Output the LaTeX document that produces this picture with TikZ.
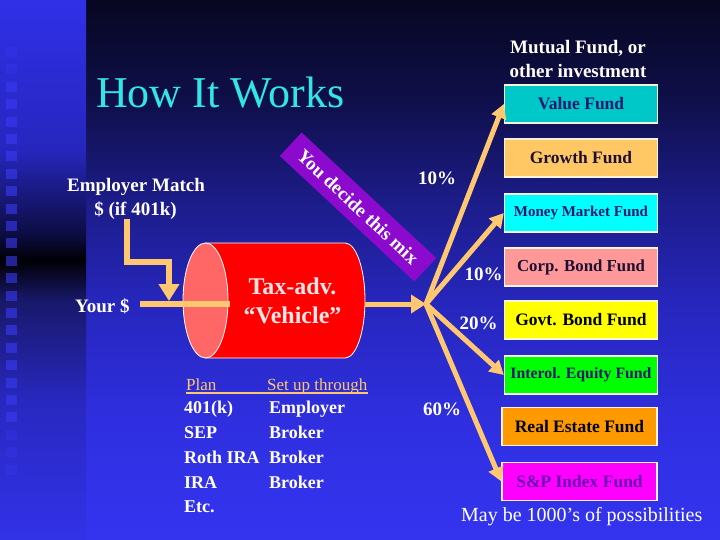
\documentclass[tikz,border=0pt]{standalone}
\usepackage{fontspec}
\setmainfont{Liberation Serif}
\usetikzlibrary{arrows.meta}
\definecolor{arrowc}{RGB}{255,200,112}
\definecolor{titlec}{RGB}{51,230,230}
\definecolor{boxedge}{RGB}{245,245,220}
\definecolor{bannerc}{RGB}{140,10,205}
\definecolor{cylred}{RGB}{255,0,0}
\definecolor{cylpink}{RGB}{255,102,102}
\definecolor{cyltext}{RGB}{255,230,230}
\definecolor{valuec}{RGB}{0,200,200}
\definecolor{growthc}{RGB}{255,200,100}
\definecolor{moneyc}{RGB}{0,255,255}
\definecolor{corpc}{RGB}{255,153,153}
\definecolor{govtc}{RGB}{255,255,0}
\definecolor{interc}{RGB}{0,255,0}
\definecolor{realc}{RGB}{255,153,0}
\definecolor{spc}{RGB}{255,0,255}
\definecolor{navyt}{RGB}{26,26,110}
\definecolor{darkt}{RGB}{30,16,50}
\definecolor{purplet}{RGB}{106,0,176}
\definecolor{mA}{RGB}{7,7,34}
\definecolor{mB}{RGB}{15,15,74}
\definecolor{mC}{RGB}{28,28,136}
\definecolor{mD}{RGB}{38,38,188}
\definecolor{mE}{RGB}{47,47,224}
\definecolor{mF}{RGB}{52,52,240}
\definecolor{lA}{RGB}{48,48,232}
\definecolor{lB}{RGB}{38,38,190}
\definecolor{lC}{RGB}{12,12,64}
\definecolor{lD}{RGB}{0,0,5}
\definecolor{lE}{RGB}{24,24,106}
\definecolor{lF}{RGB}{40,40,192}
\definecolor{lG}{RGB}{50,50,232}
\definecolor{sqc}{RGB}{58,58,245}
\begin{document}
\begin{tikzpicture}[x=1pt,y=-1pt,
  lbl/.style={text=white,inner sep=0,font=\bfseries\fontsize{19}{22}\selectfont},
  tbl/.style={text=white,inner sep=0,anchor=base west,font=\bfseries\fontsize{18}{21}\selectfont},
  hdr/.style={text=arrowc,inner sep=0,anchor=base west,font=\fontsize{17}{20}\selectfont},
  fund/.style={draw=boxedge,line width=1.3pt,minimum width=153pt,minimum height=38pt,inner sep=0,
    font=\bfseries\fontsize{17.5}{20}\selectfont},
  flowsix/.style={draw=arrowc,line width=6pt},
  flowfive/.style={draw=arrowc,line width=5pt},
  bigtip/.style={-{Triangle[length=17pt,width=20pt]}},
  midtip/.style={-{Triangle[length=15pt,width=18pt]}},
  fantip/.style={-{Triangle[length=14pt,width=15pt]}}]
\useasboundingbox (0,0) rectangle (720,540);
% main background
\shade[top color=mA,bottom color=mB] (86,0) rectangle (720,100.5);
\shade[top color=mB,bottom color=mC] (86,100) rectangle (720,200.5);
\shade[top color=mC,bottom color=mD] (86,200) rectangle (720,300.5);
\shade[top color=mD,bottom color=mE] (86,300) rectangle (720,420.5);
\shade[top color=mE,bottom color=mF] (86,420) rectangle (720,540);
% left strip
\shade[top color=lA,bottom color=lB] (0,0) rectangle (86,150.5);
\shade[top color=lB,bottom color=lC] (0,150) rectangle (86,235.5);
\shade[top color=lC,bottom color=lD] (0,235) rectangle (86,260.5);
\shade[top color=lD,bottom color=lE] (0,260) rectangle (86,300.5);
\shade[top color=lE,bottom color=lF] (0,300) rectangle (86,400.5);
\shade[top color=lF,bottom color=lG] (0,400) rectangle (86,540);
\foreach \k in {0,...,24}{
  \pgfmathsetmacro{\op}{(\k<2 || \k>21) ? 0.3 : 0.6}
  \fill[sqc,opacity=\op] (6,47+17.4*\k) rectangle (17,57+17.4*\k);
}
% title
\node[anchor=base west,inner sep=0,text=titlec,font=\fontsize{44}{50}\selectfont] (title) at (96,108) {How It Works};
% header of right column
\node[lbl,anchor=base] (mf1) at (578,54) {Mutual Fund, or};
\node[lbl,anchor=base] (mf2) at (578,77.5) {other investment};
% fund boxes
\node[fund,fill=valuec,text=navyt] (value) at (581,104) {Value Fund};
\node[fund,fill=growthc,text=darkt] (growth) at (581,158) {Growth Fund};
\node[fund,fill=moneyc,text=navyt,font=\bfseries\fontsize{15}{18}\selectfont] (money) at (581,213) {Money Market Fund};
\node[fund,fill=corpc,text=darkt,font=\bfseries\fontsize{16.8}{19}\selectfont] (corp) at (581,267) {Corp. Bond Fund};
\node[fund,fill=govtc,text=black] (govt) at (581,320) {Govt. Bond Fund};
\node[fund,fill=interc,text=navyt,font=\bfseries\fontsize{15.8}{18}\selectfont] (inter) at (581,375) {Interol. Equity Fund};
\node[fund,fill=realc,text=black,minimum width=155pt] (real) at (579.5,426.5) {Real Estate Fund};
\node[fund,fill=spc,text=purplet,minimum width=155pt] (sp) at (579.5,481.5) {S\&P Index Fund};
% left labels
\node[lbl,anchor=base] (emp1) at (136,191.5) {Employer Match};
\node[lbl,anchor=base] (emp2) at (135.5,215) {\$ (if 401k)};
\node[lbl,anchor=base west] (your) at (75,312.5) {Your \$};
% cylinder
\fill[cylred] (205,243) -- (345,243) arc[start angle=-90,end angle=90,x radius=20,y radius=57.5] -- (205,358) -- cycle;
\draw[white,line width=0.8pt] (205,243) -- (345,243) arc[start angle=-90,end angle=90,x radius=20,y radius=57.5] -- (205,358);
\filldraw[fill=cylpink,draw=white,line width=0.8pt] (205.5,300.5) ellipse[x radius=22.5,y radius=57.5];
\node[anchor=base,inner sep=0,text=cyltext,font=\bfseries\fontsize{24}{28}\selectfont] (tax) at (292.5,294) {Tax-adv.};
\node[anchor=base,inner sep=0,text=cyltext,font=\bfseries\fontsize{24}{28}\selectfont] (veh) at (292.5,323) {“Vehicle”};
% connector coordinates
\coordinate (yin) at (140,304);
\coordinate (cylin) at (230,304);
\coordinate (e0) at (127,219);
\coordinate (e1) at (169,262);
\coordinate (e2) at (169,301);
\coordinate (cylout) at (365,304);
\coordinate (hub) at (426,304);
% input connectors
\draw[flowsix] (yin) -- (cylin);
\draw[flowsix,bigtip] (e0) |- (e1) -- (e2);
\draw[flowfive,midtip] (cylout) -- (hub);
% fan connectors
\draw[flowfive,fantip] (hub) -- (value.west);
\draw[flowfive,fantip] (hub) -- (money.west);
\draw[flowfive,fantip] (hub) -- (inter.west);
\draw[flowfive,fantip] (hub) -- (sp.west);
% banner
\node[fill=bannerc,rotate=-43,minimum width=184pt,minimum height=32pt,inner sep=0,text=white,
  font=\bfseries\fontsize{19}{22}\selectfont] (banner) at (358,207) {You decide this mix};
% percentages
\node[lbl,anchor=base] (p1) at (437,185) {10\%};
\node[lbl,anchor=base] (p2) at (483.5,280) {10\%};
\node[lbl,anchor=base] (p3) at (478.5,329.5) {20\%};
\node[lbl,anchor=base] (p4) at (442,415) {60\%};
% table
\node[hdr] (plan) at (186,390.5) {Plan};
\node[hdr] (setup) at (267,390.5) {Set up through};
\draw[arrowc,line width=1.2pt] (plan.base west) ++(0,2.5) -- ([yshift=-2.5pt]setup.base east);
\node[tbl] (r1a) at (184,413.5) {401(k)};
\node[tbl] (r1b) at (269,413.5) {Employer};
\node[tbl] (r2a) at (184,438) {SEP};
\node[tbl] (r2b) at (269,438) {Broker};
\node[tbl] (r3a) at (184,463) {Roth IRA};
\node[tbl] (r3b) at (269,463) {Broker};
\node[tbl] (r4a) at (184,488) {IRA};
\node[tbl] (r4b) at (269,488) {Broker};
\node[tbl] (r5a) at (184,512.5) {Etc.};
% footer
\node[anchor=base west,inner sep=0,text=white,font=\fontsize{20}{24}\selectfont] (foot) at (461,521) {May be 1000’s of possibilities};
\end{tikzpicture}
\end{document}
